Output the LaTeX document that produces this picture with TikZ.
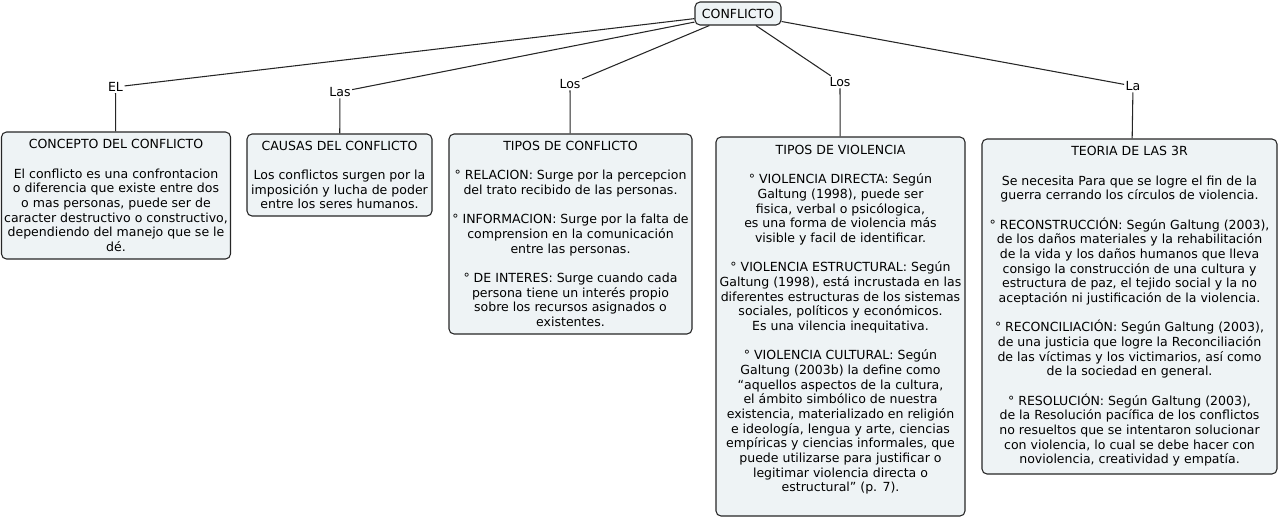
\documentclass[tikz,border=0pt]{standalone}
\usepackage{fontspec}
\setmainfont{DejaVu Sans}
\usetikzlibrary{positioning}
\newdimen\pxl
\pxl=0.75pt
\definecolor{relleno}{RGB}{238,243,245}

\begin{document}
\begin{tikzpicture}[x=0.75pt, y=-0.75pt,
        font=\fontsize{9.4}{11}\selectfont]
        \useasboundingbox (0,0) rectangle (1279,518);
        \begin{scope}[every node/.style={rectangle,rounded corners=5\pxl,draw=black!85,thick,fill=relleno,align=center,inner sep=2pt}]
            \node (conflicto) [minimum width=86\pxl, minimum height=23\pxl] at (738, 13.5) {CONFLICTO};
            \node (concepto) [minimum width=228\pxl, minimum height=127\pxl] at (116, 195.5) {CONCEPTO DEL CONFLICTO\\[11pt]
                El conflicto es una confrontacion\\o diferencia que existe entre dos\\o mas personas, puede ser de\\caracter destructivo o constructivo,\\dependiendo del manejo que se le\\dé.};
            \node (causas) [minimum width=185\pxl, minimum height=82\pxl] at (339.5, 175) {CAUSAS DEL CONFLICTO\\[11pt]
                Los conflictos surgen por la\\imposición y lucha de poder\\entre los seres humanos.};
            \node (tiposc) [minimum width=243\pxl, minimum height=200\pxl] at (570.5, 234) {TIPOS DE CONFLICTO\\[11pt]
                ° RELACION: Surge por la percepcion\\del trato recibido de las personas.\\[11pt]
                ° INFORMACION: Surge por la falta de\\comprension en la comunicación\\entre las personas.\\[11pt]
                ° DE INTERES: Surge cuando cada\\persona tiene un interés propio\\sobre los recursos asignados o\\existentes.};
            \node (tiposv) [minimum width=249\pxl, minimum height=379\pxl, text depth=16\pxl] at (840.5, 326.5) {TIPOS DE VIOLENCIA\\[11pt]
                ° VIOLENCIA DIRECTA: Según\\Galtung (1998), puede ser\\fisica, verbal o psicólogica,\\es una forma de violencia más\\visible y facil de identificar.\\[11pt]
                ° VIOLENCIA ESTRUCTURAL: Según\\Galtung (1998), está incrustada en las\\diferentes estructuras de los sistemas\\sociales, políticos y económicos.\\Es una vilencia inequitativa.\\[11pt]
                ° VIOLENCIA CULTURAL: Según\\Galtung (2003b) la define como\\“aquellos aspectos de la cultura,\\el ámbito simbólico de nuestra\\existencia, materializado en religión\\e ideología, lengua y arte, ciencias\\empíricas y ciencias informales, que\\puede utilizarse para justificar o\\legitimar violencia directa o\\estructural” (p. 7).};
            \node (teoria) [minimum width=295\pxl, minimum height=335\pxl] at (1129.5, 306.5) {TEORIA DE LAS 3R\\[11pt]
                Se necesita Para que se logre el fin de la\\guerra cerrando los círculos de violencia.\\[11pt]
                ° RECONSTRUCCIÓN: Según Galtung (2003),\\de los daños materiales y la rehabilitación\\de la vida y los daños humanos que lleva\\consigo la construcción de una cultura y\\estructura de paz, el tejido social y la no\\aceptación ni justificación de la violencia.\\[11pt]
                ° RECONCILIACIÓN: Según Galtung (2003),\\de una justicia que logre la Reconciliación\\de las víctimas y los victimarios, así como\\de la sociedad en general.\\[11pt]
                ° RESOLUCIÓN: Según Galtung (2003),\\de la Resolución pacífica de los conflictos\\no resueltos que se intentaron solucionar\\con violencia, lo cual se debe hacer con\\noviolencia, creatividad y empatía.};
        \end{scope}
        \begin{scope}[every node/.style={inner sep=1pt}]
            \node (el) at (115.5, 87) {EL};
            \node (las) at (340, 92) {Las};
            \node (losc) at (570, 84) {Los};
            \node (losv) at (840, 82) {Los};
            \node (la) at (1133, 86) {La};
        \end{scope}

        \begin{scope}[every edge/.style={draw=black!85,line width=0.8pt}]
            \path (conflicto) edge (el) (el) edge (concepto);
            \path (conflicto) edge (las) (las) edge (causas);
            \path (conflicto) edge (losc) (losc) edge (tiposc);
            \path (conflicto) edge (losv) (losv) edge (tiposv);
            \path (conflicto) edge (la) (la) edge (teoria);
        \end{scope}
    \end{tikzpicture}
\end{document}
